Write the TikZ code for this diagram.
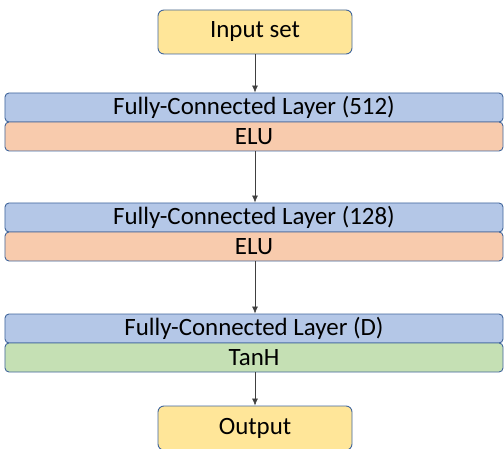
\documentclass[tikz,border=0pt]{standalone}
\usepackage{fontspec}
\setmainfont{Carlito}
\usetikzlibrary{arrows.meta}
\definecolor{boxline}{HTML}{41669C}
\definecolor{ioyellow}{HTML}{FFE699}
\definecolor{fcblue}{HTML}{B4C7E7}
\definecolor{eluorange}{HTML}{F8CBAD}
\definecolor{tanhgreen}{HTML}{C5E0B4}
\tikzset{>={Latex[length=7bp,width=6bp]}}
\tikzset{
  iobox/.style={draw=boxline, fill=ioyellow, rounded corners=6bp, minimum width=194bp, minimum height=44bp, inner sep=0pt},
  layerbox/.style={draw=boxline, rounded corners=4bp, minimum width=498bp, minimum height=29bp, inner sep=0pt},
  flow/.style={->, line width=0.7bp, black!75},
}

\begin{document}
\begin{tikzpicture}[x=1bp, y=-1bp, font=\fontsize{25}{27}\selectfont, line width=0.9bp]
		\useasboundingbox (0,0) rectangle (504,449);
		\clip (0,0) rectangle (504,449);
		\node[iobox] (in) at (255,32) {Input set};
		\node[layerbox, fill=fcblue] (fc1) at (254,107.5) {Fully-Connected Layer (512)};
		\node[layerbox, fill=eluorange] (act1) at (254,136.5) {ELU};
		\node[layerbox, fill=fcblue] (fc2) at (254,217.5) {Fully-Connected Layer (128)};
		\node[layerbox, fill=eluorange] (act2) at (254,246.5) {ELU};
		\node[layerbox, fill=fcblue] (fc3) at (254,328.5) {Fully-Connected Layer (D)};
		\node[layerbox, fill=tanhgreen] (act3) at (254,357.5) {TanH};
		\node[iobox] (out) at (255,428) {Output};
		\draw[flow] (in) -- (in |- fc1.north);
		\draw[flow] (act1.south -| in) -- (in |- fc2.north);
		\draw[flow] (act2.south -| in) -- (in |- fc3.north);
		\draw[flow] (act3.south -| in) -- (out);
	\end{tikzpicture}
\end{document}
